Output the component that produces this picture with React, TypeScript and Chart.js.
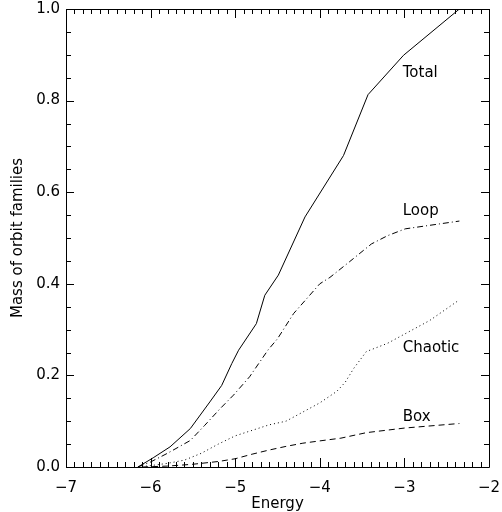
import React, { useEffect, useRef } from "react";
import { Chart, registerables } from "chart.js";

Chart.register(...registerables);

// Energy grid for each orbit family curve
const totalEnergy = [-6.15, -5.97, -5.77, -5.53, -5.3, -5.16, -5.04, -4.96, -4.75, -4.65, -4.49, -4.175, -3.72, -3.43, -3.01, -2.35];
const totalMass = [0.0, 0.02, 0.044, 0.084, 0.142, 0.178, 0.226, 0.255, 0.313, 0.375, 0.419, 0.546, 0.68, 0.813, 0.899, 1.0];

const loopEnergy = [-6.15, -6.0, -5.8, -5.53, -5.36, -5.18, -5.02, -4.83, -4.61, -4.5, -4.31, -4.0, -3.88, -3.65, -3.39, -3.2, -2.99, -2.35];
const loopMass = [0.0, 0.011, 0.03, 0.058, 0.091, 0.127, 0.157, 0.197, 0.256, 0.28, 0.335, 0.4, 0.414, 0.448, 0.487, 0.505, 0.52, 0.537];

const chaoticEnergy = [-6.15, -6.0, -5.8, -5.6, -5.4, -5.2, -5.0, -4.8, -4.6, -4.4, -4.2, -4.0, -3.8, -3.7, -3.6, -3.45, -3.2, -3.0, -2.7, -2.35];
const chaoticMass = [0.0, 0.003, 0.008, 0.015, 0.03, 0.05, 0.068, 0.08, 0.092, 0.1, 0.12, 0.14, 0.165, 0.185, 0.215, 0.252, 0.27, 0.29, 0.32, 0.365];

const boxEnergy = [-6.1, -5.8, -5.5, -5.2, -5.0, -4.8, -4.6, -4.4, -4.2, -4.0, -3.75, -3.45, -3.0, -2.35];
const boxMass = [0.0, 0.002, 0.006, 0.012, 0.018, 0.028, 0.037, 0.045, 0.052, 0.057, 0.063, 0.075, 0.085, 0.095];

const seriesNames = ["Total", "Loop", "Chaotic", "Box"];
const labelEnergy = -3.02;
const labelMass = [0.86, 0.558, 0.259, 0.109];

const xMin = -7, xMax = -2, xMajor = 1, xMinor = 0.1;
const yMin = 0, yMax = 1, yMajor = 0.2, yMinor = 0.05;

const FONT = "DejaVu Sans";

function pts(xs: number[], ys: number[]) {
  return xs.map((x, i) => ({ x, y: ys[i] }));
}

const framePlugin = {
  id: "frame",
  afterDraw(chart: any) {
    const { ctx, chartArea } = chart;
    const xs = chart.scales.x;
    const ys = chart.scales.y;
    const { left, right, top, bottom } = chartArea;
    ctx.save();
    ctx.strokeStyle = "#000";
    ctx.lineWidth = 1;
    ctx.beginPath();
    ctx.rect(Math.round(left) + 0.5, Math.round(top) + 0.5, Math.round(right - left), Math.round(bottom - top));
    ctx.stroke();
    ctx.beginPath();
    const nx = Math.round((xMax - xMin) / xMinor);
    for (let i = 0; i <= nx; i++) {
      const v = xMin + i * xMinor;
      const major = i % Math.round(xMajor / xMinor) === 0;
      const len = major ? 9 : 5;
      const px = Math.round(xs.getPixelForValue(v)) + 0.5;
      ctx.moveTo(px, bottom);
      ctx.lineTo(px, bottom - len);
      ctx.moveTo(px, top);
      ctx.lineTo(px, top + len);
    }
    const ny = Math.round((yMax - yMin) / yMinor);
    for (let i = 0; i <= ny; i++) {
      const v = yMin + i * yMinor;
      const major = i % Math.round(yMajor / yMinor) === 0;
      const len = major ? 8 : 5;
      const py = Math.round(ys.getPixelForValue(v)) + 0.5;
      ctx.moveTo(left, py);
      ctx.lineTo(left + len, py);
      ctx.moveTo(right, py);
      ctx.lineTo(right - len, py);
    }
    ctx.stroke();
    // curve labels
    ctx.fillStyle = "#000";
    ctx.font = `15px "${FONT}"`;
    ctx.textAlign = "left";
    ctx.textBaseline = "middle";
    seriesNames.forEach((name, i) => {
      ctx.fillText(name, xs.getPixelForValue(labelEnergy), ys.getPixelForValue(labelMass[i]));
    });
    ctx.restore();
  },
};

export default function App() {
  const ref = useRef<HTMLCanvasElement>(null);
  useEffect(() => {
    document.body.style.margin = "0";
    const base = {
      borderColor: "#000",
      borderWidth: 1,
      pointRadius: 0,
      fill: false,
      tension: 0,
    };
    const chart = new Chart(ref.current!, {
      type: "line",
      data: {
        datasets: [
          { ...base, label: "Total", data: pts(totalEnergy, totalMass) },
          { ...base, label: "Loop", data: pts(loopEnergy, loopMass), borderDash: [6, 3, 1, 3] },
          { ...base, label: "Chaotic", data: pts(chaoticEnergy, chaoticMass), borderDash: [1, 3] },
          { ...base, label: "Box", data: pts(boxEnergy, boxMass), borderDash: [6, 4] },
        ],
      },
      options: {
        responsive: false,
        animation: false,
        layout: { padding: { top: 9, right: 13, left: 0, bottom: 0 } },
        plugins: { legend: { display: false }, tooltip: { enabled: false } },
        scales: {
          x: {
            type: "linear",
            min: xMin,
            max: xMax,
            grid: { display: false, drawTicks: false },
            border: { display: false },
            ticks: {
              stepSize: xMajor,
              padding: 12,
              color: "#000",
              font: { family: FONT, size: 15 },
              callback: (v: any) => (v < 0 ? "\u2212" + Math.abs(v) : String(v)),
            },
            title: {
              display: true,
              text: "Energy",
              color: "#000",
              font: { family: FONT, size: 15, lineHeight: 1.0 },
              padding: { top: 0, bottom: 0 },
            },
            afterFit: (s: any) => {
              s.height = 45;
              s.paddingLeft = 0;
              s.paddingRight = 0;
            },
          },
          y: {
            type: "linear",
            min: yMin,
            max: yMax,
            grid: { display: false, drawTicks: false },
            border: { display: false },
            ticks: {
              stepSize: yMajor,
              padding: 6,
              color: "#000",
              font: { family: FONT, size: 15 },
              callback: (v: any) => Number(v).toFixed(1),
            },
            title: {
              display: true,
              text: "Mass of orbit families",
              color: "#000",
              font: { family: FONT, size: 15 },
              padding: { top: 9, bottom: 0 },
            },
            afterFit: (s: any) => {
              s.width = 66;
              s.paddingTop = 0;
              s.paddingBottom = 0;
            },
          },
        },
      },
      plugins: [framePlugin],
    } as any);
    return () => chart.destroy();
  }, []);
  return (
    <div style={{ width: 502, height: 512, background: "#fff" }}>
      <canvas ref={ref} width={502} height={512} />
    </div>
  );
}
